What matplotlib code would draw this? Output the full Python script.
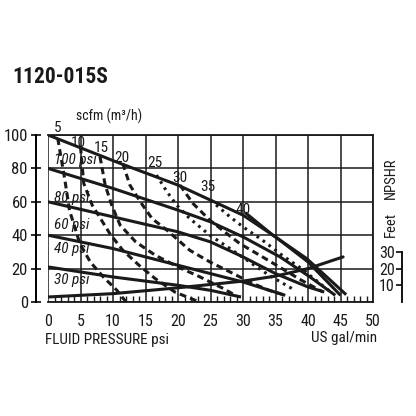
import matplotlib
matplotlib.use('Agg')
import matplotlib.pyplot as plt
from matplotlib import font_manager

# solid lines: outlet pressure vs flow at given air pressure
psi_labels = ['100 psi', '80 psi', '60 psi', '40 psi', '30 psi']
psi_x = [
    [0, 11.1, 20, 25, 30, 35, 40, 45],
    [0, 10, 20, 25, 30, 35.7, 40.3, 44.2],
    [0, 10, 20, 25, 30, 35, 40, 42.5],
    [0, 10, 20, 25, 30, 36.5],
    [0, 10, 20, 25, 29.7],
]
psi_y = [
    [100, 83, 70, 61, 52, 39, 24, 4],
    [80, 68, 55, 48, 39, 27, 15, 4],
    [60, 51, 42, 36, 27, 17, 9, 6],
    [40, 32, 22, 17, 12, 4],
    [21, 15, 10, 7, 3],
]
psi_label_y = [85, 62, 46, 32, 13]

# air consumption curves
scfm_labels = ['5', '10', '15', '20', '25', '30', '35', '40']
scfm_style = ['dash', 'dash', 'dash', 'dash', 'dot', 'dash', 'dot', 'solid']
scfm_x = [
    [1.5, 2.6, 3.3, 4.9, 6.5, 8.5, 10.6, 12],
    [5, 5.5, 6.8, 9.5, 11.5, 14, 16.5, 19.5, 23.3],
    [8, 8.8, 9.8, 11.1, 13.5, 16.5, 20, 23.4, 27, 28.8],
    [11.5, 12.6, 14.2, 16, 18.3, 21.8, 24.9, 28, 31, 34, 36.5],
    [16.7, 18.3, 19.8, 21.8, 24.9, 28, 31, 34, 38],
    [20.3, 22.3, 24.9, 27.5, 29.5, 33, 36, 39, 42.3],
    [25, 28, 30, 33, 36, 39, 42.5, 43.5],
    [30.5, 34.6, 39.8, 45.7],
]
scfm_y = [
    [98, 73, 55, 35, 24, 15, 7, 0],
    [93, 71, 58, 41, 31, 22, 14, 6, 0],
    [87, 70, 58, 46, 36, 28, 21, 15, 8, 4],
    [83, 70, 60, 50, 43, 31, 24, 18, 12, 7, 4],
    [76, 66, 58, 50, 40, 32, 24, 16, 7],
    [70, 59, 49, 41, 35, 27, 20, 13, 6],
    [61, 51, 45, 37, 28, 20, 9, 6],
    [53, 40, 26, 5],
]
scfm_label_x = [1.5, 4.6, 8.2, 11.4, 16.5, 20.3, 24.6, 30.0]
scfm_label_y = [104, 95, 92, 86, 83, 74, 69, 55]

# NPSHR (feet, same scale as psi)
npshr_x = [0, 10, 20, 25, 30, 35, 40, 45.4]
npshr_y = [3, 5, 8.5, 10.5, 12.5, 15.5, 20, 27]
feet_ticks = [10, 20, 30]

names = {f.name for f in font_manager.fontManager.ttflist}
narrow = [n for n in ['Liberation Sans Narrow', 'DejaVu Sans Condensed',
                      'Roboto Condensed', 'Open Sans Condensed']
          if n in names]
FONT = narrow + ['DejaVu Sans']
plt.rcParams['font.family'] = FONT
plt.rcParams['font.stretch'] = 'condensed'
INK = '#1a1a1a'
sc = 1.0 if narrow else 0.85

fig = plt.figure(figsize=(4.16, 4.16), dpi=100)
ax = fig.add_axes([48 / 416, 1 - 302 / 416, 325 / 416, 167 / 416])
ax.set_xlim(0, 50)
ax.set_ylim(0, 100)

ax.set_xticks(range(0, 51, 5))
ax.set_xticks(range(0, 51, 1), minor=True)
ax.set_yticks(range(0, 101, 20))
ax.grid(True, color=INK, linewidth=1.1)
ax.set_axisbelow(True)
ax.tick_params(axis='x', which='major', length=0, pad=9, labelsize=11.5 * sc,
               colors=INK)
ax.tick_params(axis='x', which='minor', direction='in', length=4,
               width=1.0, color=INK)
ax.tick_params(axis='y', which='major', direction='inout', length=7,
               width=1.3, pad=2, labelsize=12 * sc, colors=INK)
for side in ['top', 'right', 'bottom']:
    ax.spines[side].set_linewidth(1.3)
    ax.spines[side].set_color(INK)
ax.spines['left'].set_position(('outward', 9))
ax.spines['left'].set_linewidth(1.4)

lw = 2.2
for xs, ys, lab, ly in zip(psi_x, psi_y, psi_labels, psi_label_y):
    ax.plot(xs, ys, color=INK, linewidth=lw, solid_capstyle='butt')
    ax.text(1.0, ly, lab, fontsize=11 * sc, style='italic', color=INK,
            va='center', ha='left')

for xs, ys, st, lab, lx, ly in zip(scfm_x, scfm_y, scfm_style, scfm_labels,
                                   scfm_label_x, scfm_label_y):
    if st == 'dash':
        ls = (0, (2.2, 1.4))
    elif st == 'dot':
        ls = (0, (0.9, 1.5))
    else:
        ls = '-'
    ax.plot(xs, ys, color=INK, linewidth=lw, linestyle=ls,
            dash_capstyle='butt', clip_on=False)
    ax.text(lx, ly, lab, fontsize=11 * sc, color=INK, ha='center',
            va='center', clip_on=False)

ax.plot(npshr_x, npshr_y, color=INK, linewidth=lw, solid_capstyle='round')

# NPSHR feet scale on the right
ax2 = fig.add_axes([401.7 / 416, 1 - 302 / 416, 0.01, 167 / 416])
ax2.set_ylim(0, 100)
ax2.set_xticks([])
ax2.patch.set_visible(False)
for side in ['top', 'right', 'bottom']:
    ax2.spines[side].set_visible(False)
ax2.spines['left'].set_bounds(0, 30)
ax2.spines['left'].set_linewidth(1.3)
ax2.set_yticks(feet_ticks)
ax2.tick_params(axis='y', direction='out', length=4, width=1.3, pad=1,
                labelsize=11.5 * sc, colors=INK)

fig.text(12 / 416, 1 - 77 / 416, '1120-015S', fontsize=15.5 * sc,
         fontweight='bold', color=INK, ha='left', va='center')
fig.text(109 / 416, 1 - 116 / 416, 'scfm (m³/h)', fontsize=10 * sc,
         color=INK, ha='center', va='center')
fig.text(45 / 416, 1 - 340 / 416, 'FLUID PRESSURE psi', fontsize=11 * sc,
         color=INK, ha='left', va='center')
fig.text(377 / 416, 1 - 338 / 416, 'US gal/min', fontsize=11 * sc,
         color=INK, ha='right', va='center')
fig.text(391 / 416, 1 - 178 / 416, 'NPSHR', fontsize=10.5 * sc, rotation=90,
         color=INK, ha='center', va='center')
fig.text(391 / 416, 1 - 224 / 416, 'Feet', fontsize=10.5 * sc, rotation=90,
         color=INK, ha='center', va='center')

fig.savefig('out.png', dpi=100, facecolor='white')
